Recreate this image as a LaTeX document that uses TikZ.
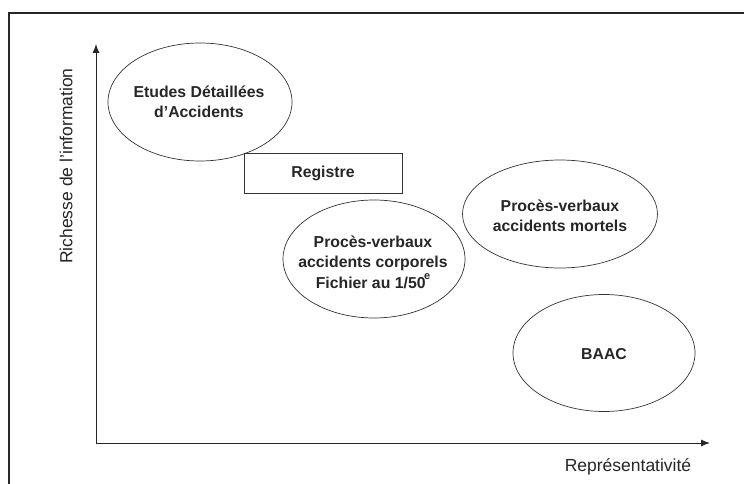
\documentclass[tikz,border=0pt]{standalone}
\usepackage{fontspec}
\setmainfont{Liberation Sans}
\usetikzlibrary{shapes.geometric,arrows.meta}
\begin{document}
\begin{tikzpicture}[x=1pt,y=-1pt,
  lbl/.style={font=\fontsize{15.8}{20.5}\selectfont\bfseries, align=center, text=black!85},
  axlbl/.style={font=\fontsize{17.5}{20}\selectfont, text=black!85},
  ell/.style={draw=black!80, line width=0.7pt, ellipse, inner sep=0pt},
  axis/.style={draw=black!85, line width=1pt, -{Latex[length=9pt,width=7pt]}}]
\useasboundingbox (0,0) rectangle (744,484);
% frame (top and left edges)
\draw[line width=1.4pt, black!85] (9,484) -- (9,13) -- (744,13);
% axes
\coordinate (O) at (96,443);
\coordinate (Ytop) at (96,44);
\coordinate (Xend) at (710,443);
\draw[axis] (O) -- (Ytop);
\draw[axis] (O) -- (Xend);
\node[axlbl, rotate=90] (ylab) at (66,166) {Richesse de l'information};
\node[axlbl] (xlab) at (628,467) {Représentativité};
% ellipses
\node[ell, minimum width=184pt, minimum height=118pt] (eda) at (200,102) {};
\node[lbl] (edat) at (199,102) {Etudes Détaillées\\d'Accidents};
\node[draw=black!80, line width=0.7pt, minimum width=158pt, minimum height=40pt, inner sep=0pt, fill=white] (reg) at (323,173) {};
\node[lbl] (regt) at (323,173) {Registre};
\node[ell, minimum width=182pt, minimum height=118pt] (pvc) at (374,259) {};
\node[lbl] (pvct) at (373,262) {Procès-verbaux\\accidents corporels\\Fichier au 1/50\kern-1.5pt\raisebox{9pt}{\fontsize{11}{11}\selectfont e}};
\node[ell, minimum width=195pt, minimum height=108pt] (pvm) at (560,214) {};
\node[lbl] (pvmt) at (560,216) {Procès-verbaux\\accidents mortels};
\node[ell, minimum width=182pt, minimum height=117pt] (baac) at (604,353) {};
\node[lbl] (baact) at (604,354) {BAAC};
\end{tikzpicture}
\end{document}
